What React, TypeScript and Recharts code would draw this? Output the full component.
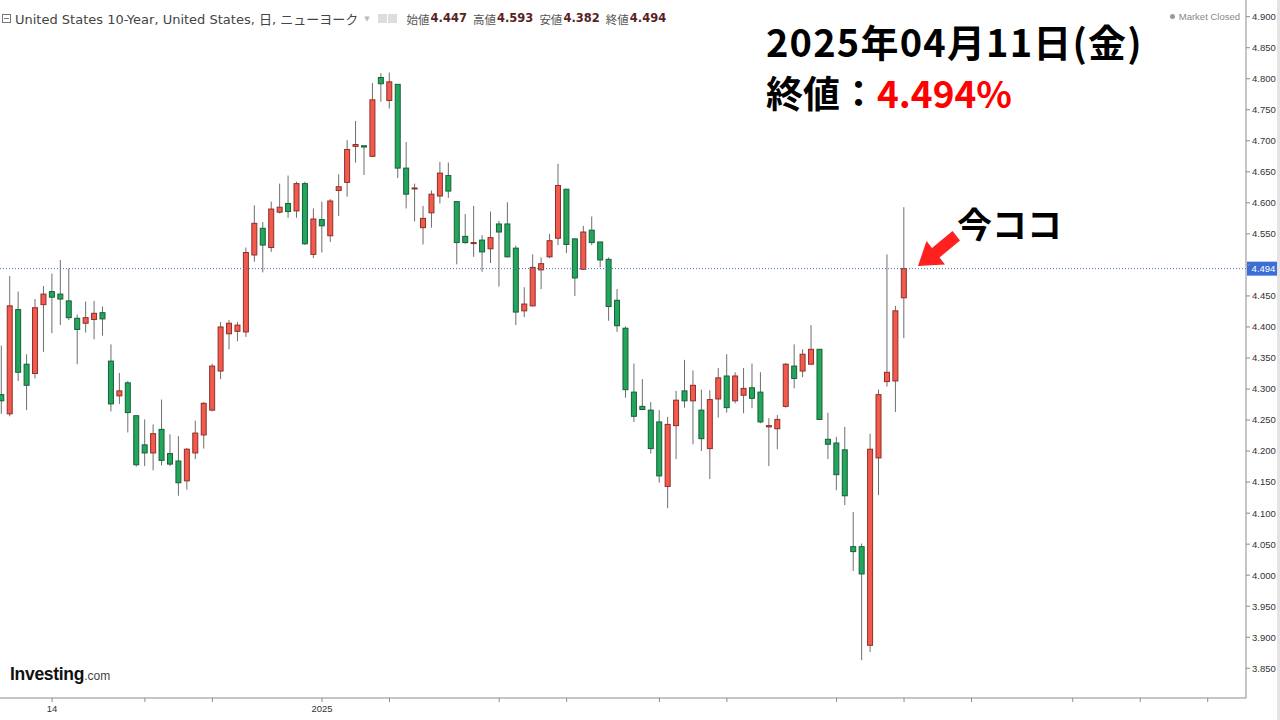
import React from "react";
import { ComposedChart, Bar, XAxis, YAxis, ReferenceLine } from "recharts";

// 米10年債利回り 日足 (2024/11 〜 2025/04/11)
const opens = [
  4.291, 4.26, 4.428, 4.34, 4.325, 4.436, 4.457, 4.453, 4.442, 4.414,
  4.406, 4.412, 4.423, 4.345, 4.289, 4.31, 4.257, 4.21, 4.197, 4.235,
  4.196, 4.184, 4.152, 4.197, 4.226, 4.266, 4.329, 4.389, 4.393, 4.392,
  4.516, 4.559, 4.528, 4.585, 4.599, 4.587, 4.631, 4.517, 4.573, 4.547,
  4.62, 4.633, 4.691, 4.692, 4.675, 4.802, 4.765, 4.791, 4.656, 4.623,
  4.56, 4.584, 4.611, 4.644, 4.602, 4.546, 4.535, 4.54, 4.526, 4.566,
  4.566, 4.527, 4.426, 4.434, 4.492, 4.513, 4.543, 4.622, 4.542, 4.493,
  4.556, 4.537, 4.509, 4.443, 4.398, 4.295, 4.272, 4.266, 4.247, 4.143,
  4.241, 4.297, 4.281, 4.266, 4.204, 4.284, 4.321, 4.281, 4.29, 4.302,
  4.295, 4.239, 4.236, 4.272, 4.337, 4.329, 4.34, 4.364, 4.219, 4.213,
  4.202, 4.046, 4.046, 3.887, 4.189, 4.312, 4.313, 4.447,
];
const highs = [
  4.37, 4.482, 4.457, 4.356, 4.445, 4.466, 4.486, 4.508, 4.494, 4.42,
  4.441, 4.442, 4.433, 4.372, 4.326, 4.313, 4.257, 4.251, 4.243, 4.283,
  4.227, 4.224, 4.205, 4.249, 4.279, 4.341, 4.408, 4.411, 4.408, 4.528,
  4.596, 4.569, 4.602, 4.631, 4.644, 4.634, 4.634, 4.591, 4.602, 4.606,
  4.646, 4.701, 4.732, 4.692, 4.793, 4.809, 4.81, 4.791, 4.698, 4.631,
  4.595, 4.62, 4.666, 4.665, 4.603, 4.582, 4.595, 4.548, 4.586, 4.571,
  4.601, 4.531, 4.464, 4.517, 4.512, 4.55, 4.663, 4.622, 4.542, 4.563,
  4.578, 4.537, 4.512, 4.461, 4.401, 4.341, 4.316, 4.279, 4.266, 4.255,
  4.297, 4.347, 4.33, 4.299, 4.298, 4.334, 4.356, 4.327, 4.334, 4.341,
  4.327, 4.253, 4.258, 4.342, 4.372, 4.364, 4.403, 4.364, 4.262, 4.223,
  4.239, 4.102, 4.051, 4.228, 4.299, 4.517, 4.434, 4.593,
];
const lows = [
  4.26, 4.256, 4.313, 4.266, 4.317, 4.36, 4.39, 4.403, 4.411, 4.34,
  4.391, 4.38, 4.386, 4.264, 4.276, 4.23, 4.175, 4.176, 4.169, 4.177,
  4.176, 4.128, 4.138, 4.187, 4.204, 4.264, 4.316, 4.364, 4.377, 4.384,
  4.505, 4.488, 4.521, 4.583, 4.576, 4.576, 4.532, 4.511, 4.52, 4.537,
  4.579, 4.61, 4.665, 4.645, 4.674, 4.763, 4.752, 4.64, 4.591, 4.57,
  4.533, 4.56, 4.599, 4.608, 4.501, 4.534, 4.513, 4.489, 4.503, 4.465,
  4.512, 4.403, 4.416, 4.433, 4.461, 4.511, 4.532, 4.519, 4.45, 4.492,
  4.532, 4.496, 4.41, 4.392, 4.286, 4.247, 4.266, 4.196, 4.149, 4.108,
  4.187, 4.27, 4.211, 4.2, 4.155, 4.254, 4.262, 4.277, 4.261, 4.269,
  4.245, 4.176, 4.203, 4.27, 4.301, 4.319, 4.339, 4.25, 4.187, 4.137,
  4.113, 4.007, 3.863, 3.876, 4.129, 4.304, 4.263, 4.382,
];
const closes = [
  4.281, 4.434, 4.327, 4.306, 4.431, 4.453, 4.448, 4.445, 4.415, 4.396,
  4.415, 4.422, 4.413, 4.276, 4.297, 4.262, 4.178, 4.197, 4.228, 4.185,
  4.179, 4.149, 4.203, 4.229, 4.277, 4.337, 4.4, 4.406, 4.403, 4.52,
  4.567, 4.532, 4.59, 4.593, 4.586, 4.631, 4.534, 4.574, 4.563, 4.603,
  4.626, 4.686, 4.694, 4.69, 4.766, 4.792, 4.795, 4.656, 4.614, 4.624,
  4.575, 4.614, 4.648, 4.619, 4.536, 4.536, 4.536, 4.521, 4.544, 4.553,
  4.513, 4.424, 4.437, 4.496, 4.502, 4.539, 4.628, 4.533, 4.479, 4.553,
  4.536, 4.508, 4.433, 4.402, 4.299, 4.256, 4.267, 4.204, 4.16, 4.243,
  4.282, 4.281, 4.306, 4.22, 4.283, 4.318, 4.27, 4.321, 4.301, 4.285,
  4.247, 4.241, 4.251, 4.34, 4.317, 4.356, 4.364, 4.251, 4.211, 4.162,
  4.128, 4.038, 4.002, 4.203, 4.291, 4.327, 4.426, 4.494,
];

// 時間軸の目盛り（営業日インデックス）と表示ラベル
const xTicks = [6, 17, 25, 38, 46, 59, 67, 78, 86, 99, 107, 115, 127, 135, 143];
const xTickLabels: Record<number, string> = { 6: "14", 38: "2025" };
const yTicks = [
  3.85, 3.9, 3.95, 4.0, 4.05, 4.1, 4.15, 4.2, 4.25, 4.3, 4.35, 4.4, 4.45,
  4.5, 4.55, 4.6, 4.65, 4.7, 4.75, 4.8, 4.85, 4.9,
];

const last = { open: 4.447, high: 4.593, low: 4.382, close: 4.494 };

const rows = opens.map((o, i) => ({
  i,
  o,
  h: highs[i],
  l: lows[i],
  c: closes[i],
  range: [lows[i], highs[i]],
}));

const UP = { fill: "#f25a4e", stroke: "#8e2f28" };
const DOWN = { fill: "#22a65c", stroke: "#17603a" };

function Candle(props: any) {
  const { x, y, width, height, payload } = props;
  if (x == null || !payload) return null;
  const top = Math.min(y, y + height);
  const bottom = Math.max(y, y + height);
  const { o, h, l, c } = payload;
  // 高値〜安値のバー範囲から価格→ピクセルを線形に求める
  const toY = (v: number) => (h === l ? top : top + ((h - v) / (h - l)) * (bottom - top));
  const cx = x + width / 2;
  const col = c >= o ? UP : DOWN;
  const bTop = toY(Math.max(o, c));
  const bBot = toY(Math.min(o, c));
  return (
    <g>
      <line x1={cx} x2={cx} y1={top} y2={bottom} stroke="#6e6e6e" strokeWidth={1} />
      <rect
        x={cx - 2.5}
        y={bTop}
        width={5}
        height={Math.max(bBot - bTop, 1)}
        fill={col.fill}
        stroke={col.stroke}
        strokeWidth={1}
      />
    </g>
  );
}

function PriceTag(props: any) {
  const vb = props.viewBox;
  if (!vb) return null;
  const x = vb.x + vb.width + 1;
  return (
    <g>
      <rect x={x} y={vb.y - 7} width={33} height={14} fill="#3b6fd6" />
      <text x={x + 16.5} y={vb.y + 3.5} textAnchor="middle" fontSize={9.5} fill="#fff"
        fontFamily="'Liberation Sans', Arial, sans-serif">
        {last.close.toFixed(3)}
      </text>
    </g>
  );
}

const uiFont = "'Liberation Sans', 'Noto Sans CJK JP', sans-serif";
const headFont = "'DejaVu Sans', 'Noto Sans CJK JP', sans-serif";
const jpFont = "'Noto Sans CJK JP', sans-serif";

function Header() {
  const val = { color: "#5a1f1f", fontWeight: 700 as const, marginLeft: 1, marginRight: 6 };
  const lab = { color: "#555" };
  return (
    <div style={{ position: "absolute", left: 2, top: 9, fontFamily: headFont, color: "#444", whiteSpace: "nowrap", display: "flex", alignItems: "center" }}>
      <span style={{ display: "inline-block", width: 9, height: 9, border: "1px solid #777", position: "relative", marginRight: 4, boxSizing: "border-box" }}>
        <span style={{ position: "absolute", left: 1, right: 1, top: 3, height: 1, background: "#777" }} />
      </span>
      <span style={{ fontSize: 13 }}>United States 10-Year, United States, 日, ニューヨーク</span>
      <span style={{ color: "#bbb", fontSize: 7, margin: "0 8px 0 6px" }}>▼</span>
      <span style={{ display: "inline-block", width: 9, height: 9, background: "#ddd", marginRight: 1 }} />
      <span style={{ display: "inline-block", width: 9, height: 9, background: "#ddd", marginRight: 10 }} />
      <span style={{ fontSize: 11.5, display: "flex" }}>
        <span style={lab}>始値</span><span style={val}>{last.open.toFixed(3)}</span>
        <span style={lab}>高値</span><span style={val}>{last.high.toFixed(3)}</span>
        <span style={lab}>安値</span><span style={val}>{last.low.toFixed(3)}</span>
        <span style={lab}>終値</span><span style={val}>{last.close.toFixed(3)}</span>
      </span>
    </div>
  );
}

export default function App() {
  return (
    <div style={{ position: "absolute", left: 0, top: 0, width: 1280, height: 720, background: "#fff", overflow: "hidden" }}>
      <ComposedChart width={1280} height={720} data={rows} margin={{ top: 0, right: 0, bottom: 0, left: 0 }}>
        <XAxis
          dataKey="i"
          type="number"
          domain={[-0.178, 147.54]}
          allowDataOverflow
          ticks={xTicks}
          interval={0}
          tickFormatter={(v) => xTickLabels[v] ?? ""}
          height={22}
          tickSize={4}
          tickMargin={3}
          stroke="#8c8c8c"
          tick={{ fontSize: 9.5, fill: "#333", fontFamily: uiFont }}
        />
        <YAxis
          orientation="right"
          domain={[3.8021, 4.9269]}
          allowDataOverflow
          ticks={yTicks}
          interval={0}
          width={34}
          tickSize={4}
          tickMargin={2}
          // 最新値タグの下に隠れる目盛りは文字を出さない
          tickFormatter={(v) => (Math.abs(v - last.close) < 0.015 ? "" : v.toFixed(3))}
          stroke="#8c8c8c"
          tick={{ fontSize: 9.5, fill: "#333", fontFamily: uiFont }}
        />
        <ReferenceLine y={last.close} stroke="#4d70ad" strokeDasharray="1 2" label={<PriceTag />} />
        <Bar dataKey="range" barSize={6} shape={(p: any) => <Candle {...p} />} isAnimationActive={false} />
      </ComposedChart>

      <Header />

      <div style={{ position: "absolute", right: 40, top: 11, fontSize: 9.5, color: "#888", fontFamily: uiFont, display: "flex", alignItems: "center" }}>
        <span style={{ display: "inline-block", width: 5, height: 5, borderRadius: 3, background: "#999", marginRight: 4 }} />
        Market Closed
      </div>

      <div style={{ position: "absolute", left: 1277, top: 0, width: 3, height: 720, background: "#e4e4e4" }} />

      <div style={{ position: "absolute", left: 766, top: 18, fontFamily: jpFont, fontWeight: 700, fontSize: 38, lineHeight: "46px", letterSpacing: 1.2, color: "#000", whiteSpace: "nowrap" }}>
        2025年04月11日(金)
      </div>
      <div style={{ position: "absolute", left: 766, top: 69, fontFamily: jpFont, fontWeight: 700, fontSize: 37, lineHeight: "46px", color: "#000", whiteSpace: "nowrap" }}>
        終値：<span style={{ color: "#ff0000" }}>4.494%</span>
      </div>

      <div style={{ position: "absolute", left: 957, top: 197, fontFamily: jpFont, fontWeight: 700, fontSize: 35, color: "#000", whiteSpace: "nowrap" }}>
        今ココ
      </div>

      <svg style={{ position: "absolute", left: 0, top: 0 }} width={1280} height={720}>
        <polygon
          points="918,266 945,264.5 939.5,257.5 960,240.5 952.5,231 932,248 926.5,241"
          fill="#ff2020"
        />
      </svg>

      <div style={{ position: "absolute", left: 10, top: 664, fontFamily: uiFont, whiteSpace: "nowrap" }}>
        <span style={{ fontSize: 17.5, fontWeight: 700, color: "#111", letterSpacing: -0.3 }}>Investing</span>
        <span style={{ fontSize: 12, color: "#444" }}>.com</span>
      </div>
    </div>
  );
}
